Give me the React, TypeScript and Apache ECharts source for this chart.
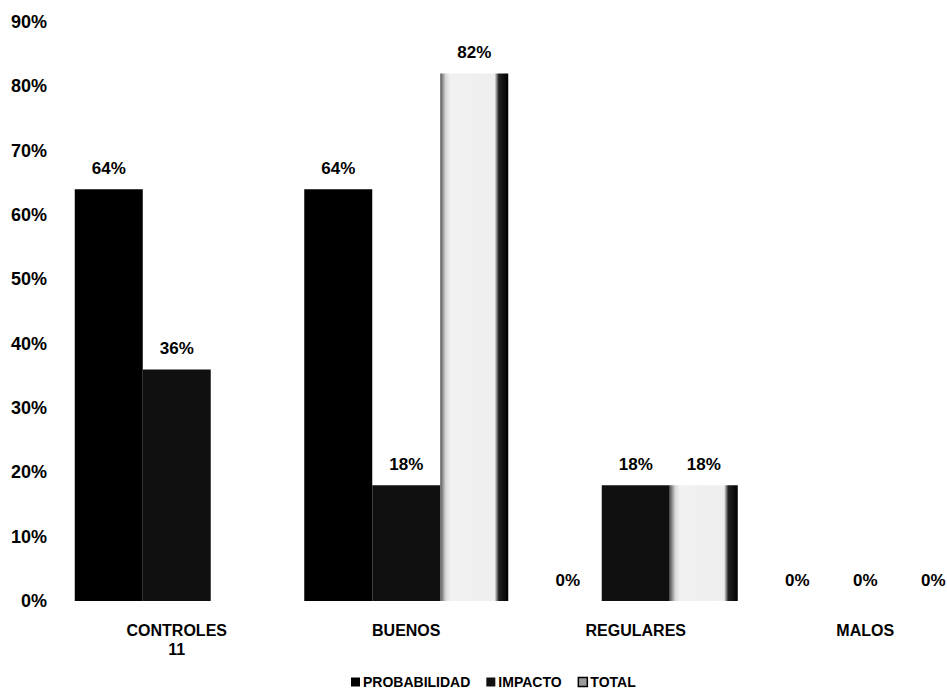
import React, { useEffect, useRef } from "react";
import * as echarts from "echarts";

const categories = ["CONTROLES\n11", "BUENOS", "REGULARES", "MALOS"];
const seriesNames = ["PROBABILIDAD", "IMPACTO", "TOTAL"];
const probabilidad = [64, 64, 0, 0];
const impacto = [36, 18, 18, 0];
const total: (number | null)[] = [null, 82, 18, 0];
const yTicks = { min: 0, max: 90, interval: 10 };

const NARROW = '"Liberation Sans Narrow", "Arial Narrow", "Liberation Sans", Arial, sans-serif';
const SANS = '"Liberation Sans", Arial, sans-serif';

export default function App() {
  const ref = useRef<HTMLDivElement>(null);
  useEffect(() => {
    if (!ref.current) return;
    const chart = echarts.init(ref.current, undefined, { renderer: "svg" });
    const label = {
      show: true,
      position: "top" as const,
      distance: 12,
      formatter: "{c}%",
      color: "#000",
      fontFamily: NARROW,
      fontWeight: "bold" as const,
      fontSize: 17,
    };
    chart.setOption({
      animation: false,
      backgroundColor: "#ffffff",
      grid: {
        left: 62,
        top: 22,
        bottom: 95,
        width: 918,
        containLabel: false,
        outerBoundsMode: "none",
      },
      legend: {
        data: [
          { name: seriesNames[0] },
          { name: seriesNames[1] },
          { name: seriesNames[2], itemStyle: { color: "#9a9a9a", borderColor: "#000", borderWidth: 1.5 } },
        ],
        left: 346,
        bottom: 2,
        itemWidth: 9,
        itemHeight: 9,
        itemGap: 16,
        icon: "rect",
        textStyle: { fontFamily: SANS, fontWeight: "bold", fontSize: 14, color: "#000", padding: [0, 0, 0, -2] },
      },
      xAxis: {
        type: "category",
        data: categories,
        axisLine: { show: false },
        axisTick: { show: false },
        axisLabel: {
          margin: 20,
          color: "#000",
          fontFamily: SANS,
          fontWeight: "bold",
          fontSize: 16,
          lineHeight: 19,
        },
      },
      yAxis: {
        type: "value",
        min: yTicks.min,
        max: yTicks.max,
        interval: yTicks.interval,
        axisLine: { show: false },
        axisTick: { show: false },
        splitLine: { show: false },
        axisLabel: {
          formatter: "{value}%",
          margin: 15,
          color: "#000",
          fontFamily: NARROW,
          fontWeight: "bold",
          fontSize: 18,
        },
      },
      series: [
        {
          name: seriesNames[0],
          type: "bar",
          data: probabilidad,
          barWidth: 68,
          barGap: "0%",
          itemStyle: { color: "#000000" },
          label,
        },
        {
          name: seriesNames[1],
          type: "bar",
          data: impacto,
          barWidth: 68,
          barGap: "0%",
          itemStyle: { color: "#101010" },
          label,
        },
        {
          name: seriesNames[2],
          type: "bar",
          data: total,
          barWidth: 68,
          barGap: "0%",
          itemStyle: {
            color: new echarts.graphic.LinearGradient(0, 0, 1, 0, [
              { offset: 0, color: "#555555" },
              { offset: 0.08, color: "#d8d8d8" },
              { offset: 0.15, color: "#f1f1f1" },
              { offset: 0.8, color: "#eeeeee" },
              { offset: 0.86, color: "#222222" },
              { offset: 1, color: "#000000" },
            ]),
          },
          label,
        },
      ],
    });
    return () => chart.dispose();
  }, []);
  return (
    <div
      ref={ref}
      style={{ position: "fixed", left: 0, top: 0, width: 947, height: 696, overflow: "hidden" }}
    />
  );
}
